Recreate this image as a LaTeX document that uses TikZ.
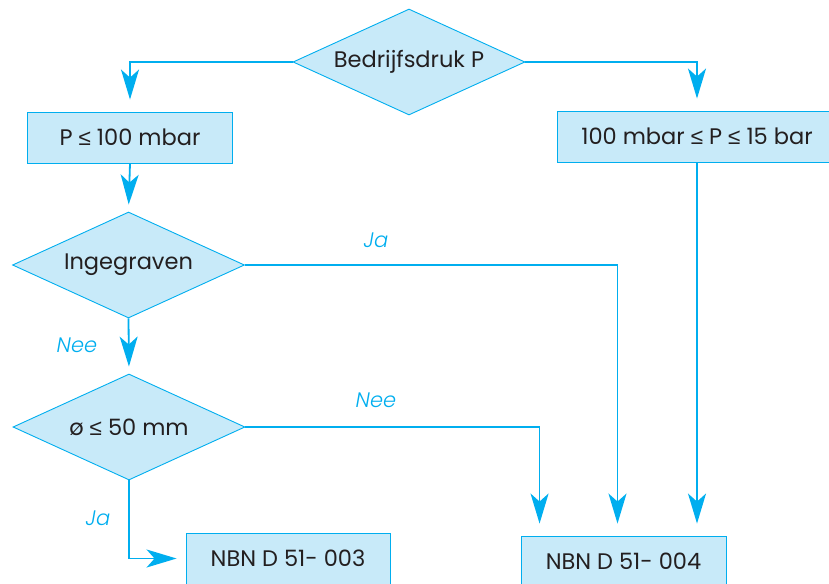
\documentclass[tikz,border=0pt]{standalone}
\usepackage{fontspec}
\setmainfont{Poppins}
\newfontfamily\lichtfont{Poppins Light}
\newfontfamily\symfont{Liberation Sans}
\newcommand{\kleiner}{{\symfont ≤}}
\definecolor{lijnblauw}{HTML}{00AEEF}
\definecolor{vulblauw}{HTML}{C8EAF9}
\definecolor{tekst}{HTML}{231F20}
\usetikzlibrary{arrows.meta, shapes.geometric, positioning, calc}

\begin{document}
\begin{tikzpicture}[x=1pt, y=-1pt, font=\fontsize{22.5}{26}\selectfont, text=tekst,
	vraag/.style={shape=diamond, draw=lijnblauw, fill=vulblauw, line width=0.9pt, inner sep=0pt, shape aspect=2.19, minimum width=232pt, minimum height=106pt},
	blok/.style={shape=rectangle, draw=lijnblauw, fill=vulblauw, line width=0.9pt, minimum height=51pt},
	link/.style={draw=lijnblauw, line width=1.8pt, -{Stealth[length=30pt, width=18pt, inset=8pt]}, shorten >=10pt},
	antw/.style={text=lijnblauw, font=\fontsize{21}{24}\lichtfont\itshape}]
	\useasboundingbox (0,0) rectangle (829,583);
	\node[vraag] at (409, 62) (druk) {Bedrijfsdruk P};
	\node[blok, minimum width=205pt] at (130, 137.5) (laag) {P \kleiner{} 100 mbar};
	\node[blok, minimum width=280pt] at (697, 136.5) (hoog) {100 mbar \kleiner{} P \kleiner{} 15 bar};
	\node[vraag] at (128.5, 265) (graf) {Ingegraven};
	\node[vraag] at (129, 427) (diam) {ø \kleiner{} 50 mm};
	\node[blok, minimum width=204pt] at (288, 558.5) (nbna) {NBN D 51- 003};
	\node[blok, minimum width=205pt] at (623.5, 561.5) (nbnb) {NBN D 51- 004};
	% verbindingen
	\draw[link, shorten >=12pt] (druk.west) -| (laag.north);
	\draw[link, shorten >=12pt] (druk.east) -| (hoog.north);
	\draw[link, shorten >=7pt] (laag.south) -- (graf.north);
	\draw[link, shorten >=7pt] (graf.south) -- (diam.north);
	\draw[link, shorten >=12pt] (hoog.south) -- (hoog.south |- nbnb.north);
	\draw[link, shorten >=12pt] (graf.east) -| ([xshift=-6pt]nbnb.north);
	\draw[link, shorten >=12pt] (diam.east) -| ([xshift=19pt]nbnb.north west);
	\draw[link, shorten >=9pt] (diam.south) |- (nbna.west);
	\node[antw] at (376, 240) (jaa) {Ja};
	\node[antw] at (77, 345) (neea) {Nee};
	\node[antw] at (376, 400) (neeb) {Nee};
	\node[antw] at (98, 518) (jab) {Ja};
\end{tikzpicture}
\end{document}
